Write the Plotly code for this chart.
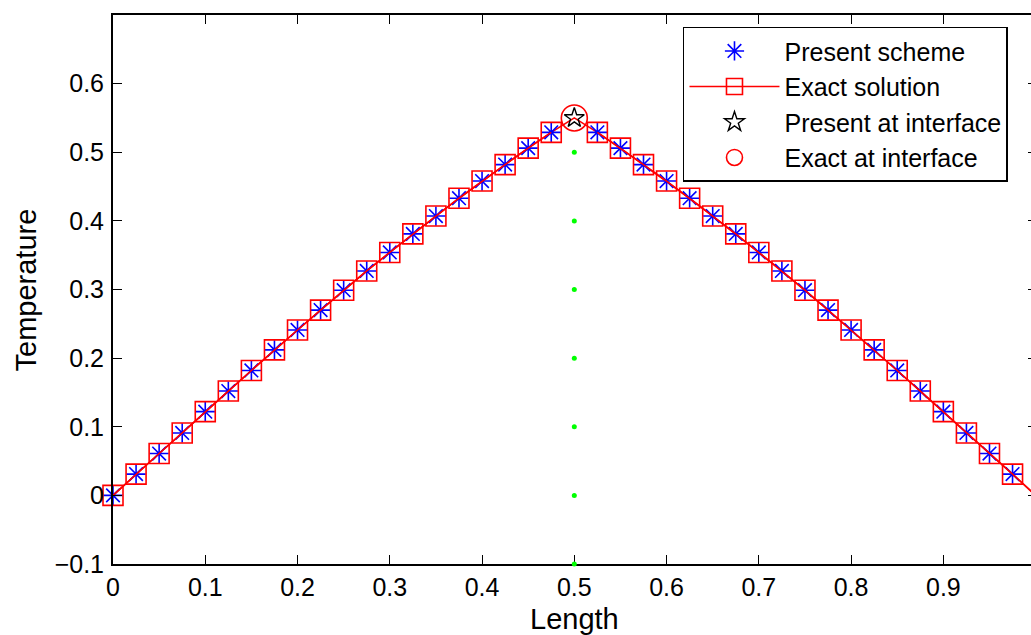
import plotly.graph_objects as go

# ---- data ----
x_left = [0, 0.025, 0.05, 0.075, 0.1, 0.125, 0.15, 0.175, 0.2, 0.225, 0.25,
          0.275, 0.3, 0.325, 0.35, 0.375, 0.4, 0.425, 0.45, 0.475]
x_right = [0.525, 0.55, 0.575, 0.6, 0.625, 0.65, 0.675, 0.7, 0.725, 0.75,
           0.775, 0.8, 0.825, 0.85, 0.875, 0.9, 0.925, 0.95, 0.975, 1.0]
present_left = [0, 0.031, 0.061, 0.091, 0.122, 0.152, 0.182, 0.212, 0.241, 0.270, 0.299,
                0.327, 0.354, 0.381, 0.407, 0.433, 0.458, 0.482, 0.506, 0.529]
present_right = [0.529, 0.506, 0.482, 0.458, 0.433, 0.407, 0.381, 0.354, 0.327, 0.299,
                 0.270, 0.241, 0.212, 0.182, 0.152, 0.122, 0.091, 0.061, 0.031, 0]
exact_left = [0, 0.031, 0.061, 0.091, 0.122, 0.152, 0.182, 0.212, 0.241, 0.270, 0.299,
              0.327, 0.354, 0.381, 0.407, 0.433, 0.458, 0.482, 0.506, 0.529]
exact_right = [0.529, 0.506, 0.482, 0.458, 0.433, 0.407, 0.381, 0.354, 0.327, 0.299,
               0.270, 0.241, 0.212, 0.182, 0.152, 0.122, 0.091, 0.061, 0.031, 0]
interface_x = [0.5]
present_interface = [0.55]
exact_interface = [0.55]
interface_line_x = [0.5, 0.5, 0.5, 0.5, 0.5, 0.5, 0.5]
interface_line_y = [-0.1, 0.0, 0.1, 0.2, 0.3, 0.4, 0.5]

x_ticks = [0, 0.1, 0.2, 0.3, 0.4, 0.5, 0.6, 0.7, 0.8, 0.9]
x_ticklabels = ["0", "0.1", "0.2", "0.3", "0.4", "0.5", "0.6", "0.7", "0.8", "0.9"]
y_ticks = [-0.1, 0, 0.1, 0.2, 0.3, 0.4, 0.5, 0.6]
y_ticklabels = ["\u22120.1", "0", "0.1", "0.2", "0.3", "0.4", "0.5", "0.6"]
x_title = "Length"
y_title = "Temperature"

FONT = "Liberation Sans, Arial, Helvetica, sans-serif"

star_marker = dict(symbol="asterisk-open", size=16, color="blue",
                   line=dict(color="blue", width=1.6))
square_marker = dict(symbol="square-open", size=20, color="red",
                     line=dict(color="red", width=1.6))
red_line = dict(color="red", width=1.6)

fig = go.Figure()

# interface marker dots
fig.add_trace(go.Scatter(
    x=interface_line_x, y=interface_line_y, mode="markers",
    marker=dict(color="#00ff00", size=5, symbol="circle"),
    showlegend=False, cliponaxis=False, hoverinfo="skip"))

# continuous exact-solution line through the interface
fig.add_trace(go.Scatter(
    x=x_left + interface_x + x_right,
    y=exact_left + exact_interface + exact_right,
    mode="lines", line=red_line, showlegend=False, legendgroup="exact",
    cliponaxis=True, hoverinfo="skip"))

fig.add_trace(go.Scatter(
    x=x_left, y=present_left, mode="markers", name="Present scheme",
    legendgroup="present", marker=star_marker, cliponaxis=False))
fig.add_trace(go.Scatter(
    x=x_right, y=present_right, mode="markers", name="Present scheme",
    legendgroup="present", marker=star_marker, cliponaxis=True, showlegend=False))

fig.add_trace(go.Scatter(
    x=x_left, y=exact_left, mode="lines+markers", name="Exact solution",
    legendgroup="exact", line=red_line, marker=square_marker, cliponaxis=False))
fig.add_trace(go.Scatter(
    x=x_right, y=exact_right, mode="lines+markers", name="Exact solution",
    legendgroup="exact", line=red_line, marker=square_marker, cliponaxis=True,
    showlegend=False))

fig.add_trace(go.Scatter(
    x=interface_x, y=present_interface, mode="markers", name="Present at interface",
    marker=dict(symbol="star-open", size=15, color="black",
                line=dict(color="black", width=1.4)),
    cliponaxis=False))

fig.add_trace(go.Scatter(
    x=interface_x, y=exact_interface, mode="markers", name="Exact at interface",
    marker=dict(symbol="circle-open", size=26, color="red",
                line=dict(color="red", width=1.6)),
    cliponaxis=False))

# invisible trace to activate the right-hand tick axis
fig.add_trace(go.Scatter(
    x=[0], y=[0], yaxis="y2", mode="markers", marker=dict(opacity=0),
    showlegend=False, hoverinfo="skip"))

fig.update_layout(
    width=1031, height=635,
    margin=dict(l=113, r=0, t=15, b=71),
    paper_bgcolor="white", plot_bgcolor="white",
    font=dict(family=FONT, size=25, color="black"),
    showlegend=True,
    legend=dict(x=0.6209, y=0.9787, xanchor="left", yanchor="top",
                bgcolor="white", bordercolor="black", borderwidth=1.5,
                font=dict(family=FONT, size=25, color="black"),
                itemwidth=90, tracegroupgap=0),
    xaxis=dict(range=[0, 0.995], tickvals=x_ticks, ticktext=x_ticklabels,
               ticks="inside", ticklen=9, tickwidth=1.3, tickcolor="black",
               showline=True, linecolor="black", linewidth=2, mirror="ticks",
               showgrid=False, zeroline=False, ticklabelstandoff=0,
               automargin=False, layer="below traces"),
    yaxis=dict(range=[-0.1, 0.7], tickvals=y_ticks, ticktext=y_ticklabels,
               ticks="inside", ticklen=9, tickwidth=1.3, tickcolor="black",
               showline=True, linecolor="black", linewidth=2, mirror=False,
               showgrid=False, zeroline=False, ticklabelstandoff=2,
               automargin=False),
    yaxis2=dict(range=[-0.1, 0.7], overlaying="y", side="right", tickvals=y_ticks,
                showticklabels=False, ticks="inside", ticklen=3, tickwidth=1.3,
                tickcolor="black", showline=False, showgrid=False, zeroline=False,
                automargin=False),
    annotations=[
        dict(text=x_title, xref="paper", yref="paper", x=0.5027, y=-0.067,
             xanchor="center", yanchor="top", showarrow=False,
             font=dict(family=FONT, size=29, color="black")),
        dict(text=y_title, xref="paper", yref="paper", x=-0.0948, y=0.5,
             xanchor="center", yanchor="middle", textangle=-90, showarrow=False,
             font=dict(family=FONT, size=29, color="black")),
    ],
)

fig.write_html("out.html")
